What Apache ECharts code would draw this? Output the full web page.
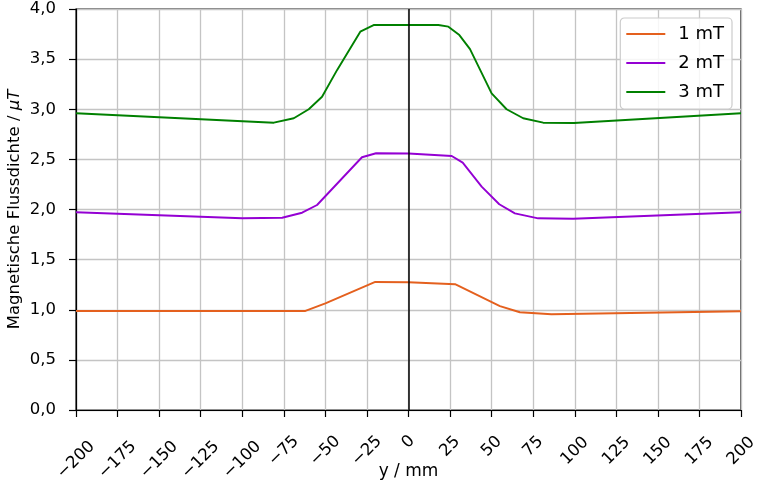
<!DOCTYPE html>
<html><head><meta charset="utf-8">
<script src="https://cdn.jsdelivr.net/npm/echarts@6/dist/echarts.min.js"></script>
<style>html,body{margin:0;padding:0;background:#fff}#c{width:757px;height:484px}</style>
</head><body><div id="c"></div>
<script>
var seriesNames = ['1 mT', '2 mT', '3 mT'];
var x1 = [-200, -62, -50, -20, 0, 28, 55, 67, 86, 200];
var y1 = [0.988, 0.988, 1.064, 1.277, 1.275, 1.255, 1.037, 0.975, 0.955, 0.985];
var x2 = [-200, -100, -76, -64, -55, -28, -19.5, 0, 26, 32.6, 44, 54.6, 64, 78, 99, 200];
var y2 = [1.972, 1.912, 1.918, 1.968, 2.045, 2.521, 2.561, 2.558, 2.534, 2.467, 2.228, 2.052, 1.962, 1.912, 1.908, 1.972];
var x3 = [-200, -81, -69, -60, -52, -43, -29, -21, 0, 18, 24, 30.6, 37, 50, 59, 69, 81, 99.5, 200];
var y3 = [2.96, 2.866, 2.91, 3.0, 3.125, 3.39, 3.774, 3.84, 3.842, 3.84, 3.824, 3.74, 3.6, 3.159, 3.0, 2.91, 2.866, 2.863, 2.96];
var colors = ['#e4601e', '#9400d3', '#008000'];

function pairs(xs, ys){ return xs.map(function(x,i){ return [x, ys[i]]; }); }
function fmtX(v){ return v < 0 ? '\u2212' + Math.abs(v) : String(v); }
var font = 'DejaVu Sans';
var tickFont = 16.5;
var chart = echarts.init(document.getElementById('c'), null, {renderer:'canvas'});
var allX = [x1, x2, x3], allY = [y1, y2, y3];
var series = seriesNames.map(function(n, i){
  var s = {name:n, type:'line', xAxisIndex:0, data:pairs(allX[i], allY[i]), symbol:'none',
    lineStyle:{color:colors[i], width:1.9}, itemStyle:{color:colors[i]}, z:3};
  if (i === 0) {
    s.markLine = {silent:true, symbol:'none', label:{show:false},
      lineStyle:{color:'#000', width:1.5, type:'solid'}, data:[{xAxis:0}], animation:false};
  }
  return s;
});
// rotated tick labels: centre of each label's box sits under its tick, box tops aligned
var marginForLen = {1:32, 2:36.5, 3:41, 4:50};
function makeX(len, main){
  return {type:'value', min:-200, max:200, interval:25, position:'bottom',
    name: main ? 'y / mm' : '', nameLocation:'middle', nameGap:53, nameMoveOverlap:false,
    nameTextStyle:{fontFamily:font, fontSize:17, color:'#000'},
    axisLine:{show:main, onZero:false, lineStyle:{color:'#000', width:1.2}},
    axisTick:{show:main, inside:false, length:7, lineStyle:{color:'#000', width:1.2}},
    axisLabel:{rotate:45, align:'center', verticalAlign:'middle', fontFamily:font, fontSize:tickFont,
      color:'#000', margin:marginForLen[len], hideOverlap:false,
      formatter:function(v){ var s = fmtX(v); return s.length === len ? s : ''; }},
    splitLine:{show:main, lineStyle:{color:'#c4c4c4', width:1.3}}};
}
chart.setOption({
  animation:false,
  grid:{left:76, right:16, top:9, bottom:74, show:true, borderColor:'#000', borderWidth:1.2,
    containLabel:false, outerBoundsMode:'none'},
  legend:{orient:'vertical', right:25, top:18, padding:[7,8,8,6], itemGap:11,
    backgroundColor:'rgba(255,255,255,0.85)', borderColor:'#cccccc', borderWidth:1.2, borderRadius:4,
    itemWidth:39, itemHeight:2, icon:'rect',
    textStyle:{fontFamily:font, fontSize:18, lineHeight:17, color:'#000', padding:[0,0,0,8]},
    data:seriesNames},
  xAxis:[makeX(1, true), makeX(2, false), makeX(3, false), makeX(4, false)],
  yAxis:{type:'value', min:0, max:4, interval:0.5,
    name:'Magnetische Flussdichte / {i|μT}', nameLocation:'middle', nameGap:53, nameMoveOverlap:false,
    nameTextStyle:{fontFamily:font, fontSize:16.5, color:'#000', rich:{i:{fontFamily:font, fontSize:16.5, fontStyle:'italic', color:'#000'}}},
    axisLine:{show:true, onZero:false, lineStyle:{color:'#000', width:1.2}},
    axisTick:{show:true, inside:false, length:7, lineStyle:{color:'#000', width:1.2}},
    axisLabel:{fontFamily:font, fontSize:tickFont, color:'#000', margin:20,
      formatter:function(v){ return v.toFixed(1).replace('.', ','); }},
    splitLine:{show:true, lineStyle:{color:'#c4c4c4', width:1.3}}},
  series:series
});
</script></body></html>
